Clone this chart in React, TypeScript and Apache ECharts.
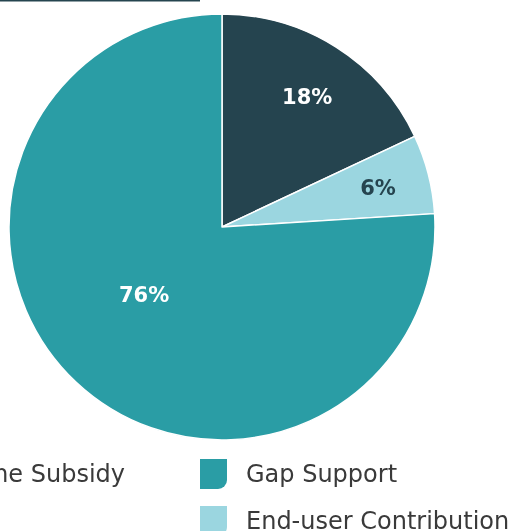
import React, { useEffect, useRef } from "react";
import * as echarts from "echarts";

const categories = ["One-time Subsidy", "End-user Contribution", "Gap Support"];
const values = [18, 6, 76];
const colors = ["#25444f", "#9bd6e0", "#2a9da5"];
const labelColors = ["#ffffff", "#25444f", "#ffffff"];
const legendOrder = ["One-time Subsidy", "Gap Support", "End-user Contribution"];

const FONT = "'DejaVu Sans', sans-serif";
const ICON = "path://M0,0 L27,0 L27,21 A9,9 0 0 1 18,30 L0,30 Z";

export default function App() {
  const ref = useRef<HTMLDivElement>(null);
  useEffect(() => {
    if (!ref.current) return;
    const chart = echarts.init(ref.current, undefined, { renderer: "svg" });
    const total = values.reduce((a, b) => a + b, 0);
    const mainData = categories.map((name, i) => ({
      name,
      value: values[i],
      itemStyle: { color: colors[i] },
      label: { show: i === 2, color: labelColors[i], offset: [-3, -12] },
    }));
    const overlayData = categories.map((name, i) => ({
      name,
      value: values[i],
      itemStyle: { color: "rgba(0,0,0,0)", borderWidth: 0 },
      label: { show: i !== 2, color: labelColors[i], offset: i === 0 ? [0, 4] : [2, 1] },
    }));
    const labelBase = {
      position: "inside" as const,
      fontFamily: FONT,
      fontWeight: "bold" as const,
      fontSize: 21,
      formatter: (p: any) => Math.round((p.value / total) * 100) + "%",
    };
    const legendBase = {
      orient: "horizontal" as const,
      padding: 0,
      itemWidth: 27,
      itemHeight: 30,
      icon: ICON,
      itemStyle: { borderWidth: 0 },
      textStyle: { fontFamily: FONT, fontSize: 24, color: "#3a3a3a", padding: [0, 0, 0, 14] },
      selectedMode: false as const,
    };
    chart.setOption({
      animation: false,
      graphic: [
        { type: "rect", left: 0, top: 0, shape: { width: 200, height: 1.5 }, style: { fill: "#25444f" } },
      ],
      legend: [
        { ...legendBase, data: [legendOrder[0]], right: 392, top: 459 },
        { ...legendBase, data: [legendOrder[1]], left: 200, top: 459 },
        { ...legendBase, data: [legendOrder[2]], left: 200, top: 506 },
      ],
      series: [
        {
          type: "pie",
          center: [222, 227],
          radius: [0, 213],
          startAngle: 90,
          clockwise: true,
          itemStyle: { borderColor: "#ffffff", borderWidth: 1.5 },
          label: labelBase,
          labelLine: { show: false },
          emphasis: { disabled: true },
          data: mainData,
        },
        {
          type: "pie",
          center: [222, 227],
          radius: [0, 312],
          startAngle: 90,
          clockwise: true,
          silent: true,
          z: 3,
          label: labelBase,
          labelLine: { show: false },
          emphasis: { disabled: true },
          data: overlayData,
        },
      ],
    });
    return () => chart.dispose();
  }, []);
  return (
    <div
      ref={ref}
      style={{ position: "fixed", left: 0, top: 0, width: 517, height: 531 }}
    />
  );
}
